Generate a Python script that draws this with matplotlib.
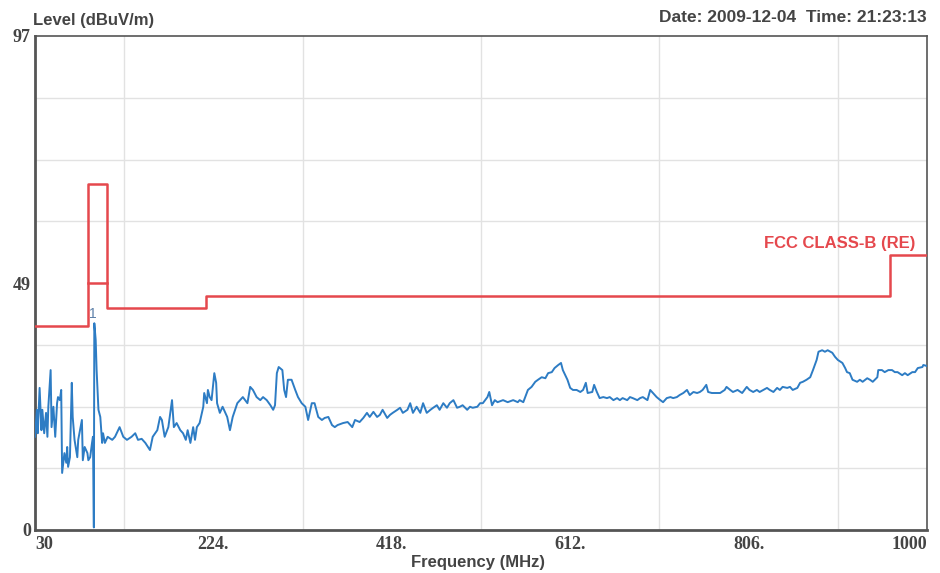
import matplotlib.pyplot as plt
import numpy as np
from matplotlib.transforms import ScaledTranslation

plt.rcParams['font.family'] = ['Liberation Sans', 'DejaVu Sans']

freq = [30, 32, 33, 35, 37, 38, 40, 42, 43.5, 44.5, 47, 48, 50, 52, 54, 55, 57, 58.5, 59.5, 62,
        64, 65, 66, 68, 70, 71, 73, 76, 77, 81, 82, 84, 87, 88, 90, 92, 93, 94, 94.5, 96,
        97, 99, 101, 103, 104, 106, 109, 114, 117, 122, 126, 130, 135, 139, 142, 146, 150, 155, 158, 163,
        166, 168, 171, 175, 179, 181, 184, 188, 191, 194, 196, 199, 202, 204, 206, 209, 213, 214, 217, 218,
        220, 222, 225, 227, 228, 231, 234, 239, 242, 245, 250, 253, 256, 261, 264, 267, 271, 275, 278, 282,
        286, 289, 291, 293, 295, 299, 301, 303, 305, 309, 313, 316, 320, 324, 327, 331, 334, 338, 342, 345,
        349, 353, 356, 359, 365, 370, 375, 378, 383, 387, 391, 394, 398, 402, 405, 408, 413, 416, 419, 424,
        427, 430, 435, 438, 441, 445, 449, 452, 456, 460, 463, 467, 470, 474, 478, 481, 485, 489, 492, 495,
        500, 503, 506, 511, 514, 517, 522, 524, 527, 530, 533, 539, 544, 550, 555, 557, 561, 566, 570, 574,
        577, 581, 585, 588, 592, 595, 599, 602, 604, 609, 612, 615, 619, 623, 626, 629, 631, 636, 638, 641,
        644, 648, 652, 655, 659, 663, 666, 669, 674, 677, 680, 685, 688, 691, 696, 699, 702, 706, 710, 713,
        717, 721, 724, 728, 731, 735, 739, 742, 746, 750, 753, 756, 760, 762, 766, 772, 775, 780, 782, 786,
        789, 794, 799, 804, 807, 811, 815, 818, 822, 826, 829, 833, 837, 840, 843, 848, 851, 854, 859, 862,
        865, 869, 873, 876, 880, 882, 886, 889, 892, 897, 900, 903, 908, 911, 913, 916, 919, 924, 927, 930,
        935, 938, 941, 946, 947, 951, 954, 958, 962, 965, 968, 973, 976, 979, 984, 987, 990, 995, 996, 1000]
level = [18.3, 23.6, 19.0, 27.9, 19.6, 23.6, 19.0, 23.0, 18.3, 24.2, 31.4, 20.2, 24.2, 18.3, 24.9, 26.1, 25.5, 27.5, 11.2, 15.1,
         13.2, 16.3, 12.4, 14.3, 28.9, 22.2, 17.7, 14.3, 17.7, 21.6, 13.7, 16.3, 15.1, 13.7, 14.3, 17.1, 18.3, 0.5, 40.6, 37.3,
         31.4, 23.6, 22.2, 17.1, 19.0, 17.1, 18.3, 17.7, 18.3, 20.2, 18.3, 17.7, 18.3, 19.0, 17.7, 17.9, 17.1, 15.7, 18.3, 19.6,
         22.2, 21.6, 18.3, 20.2, 25.5, 20.2, 21.0, 19.6, 19.0, 17.7, 19.6, 17.1, 20.2, 17.7, 20.2, 21.0, 24.2, 26.9, 24.9, 27.5,
         26.1, 25.5, 30.8, 28.9, 24.9, 23.0, 24.2, 22.2, 19.6, 22.2, 24.9, 25.5, 26.1, 24.9, 28.1, 27.5, 26.1, 25.5, 26.1, 25.5,
         24.5, 23.6, 24.5, 30.8, 32.0, 31.4, 27.5, 26.1, 29.5, 29.5, 27.5, 26.1, 24.9, 24.2, 21.6, 24.9, 24.9, 22.2, 21.6, 22.0,
         22.2, 20.6, 20.2, 20.6, 21.0, 21.2, 20.2, 21.6, 21.2, 22.0, 23.0, 22.2, 23.2, 22.2, 22.6, 23.6, 22.0, 22.6, 23.0, 23.6,
         24.0, 23.0, 23.6, 24.9, 23.0, 24.2, 23.0, 24.9, 23.0, 23.6, 24.0, 24.5, 23.6, 24.9, 24.0, 24.9, 25.5, 24.0, 24.2, 24.5,
         23.6, 24.2, 24.0, 24.2, 24.9, 24.9, 26.1, 27.1, 24.5, 25.5, 25.1, 25.5, 25.1, 25.5, 25.1, 25.5, 25.1, 27.5, 28.1, 29.1,
         29.5, 30.0, 29.8, 30.8, 31.0, 31.8, 32.4, 32.8, 31.4, 29.5, 27.9, 27.5, 27.5, 27.1, 27.5, 28.9, 26.9, 27.1, 28.5, 27.1,
         25.9, 26.1, 25.9, 26.1, 25.5, 25.9, 25.5, 25.9, 25.5, 26.1, 25.9, 25.5, 25.9, 26.1, 25.5, 27.5, 26.9, 26.1, 25.5, 25.1,
         25.9, 26.1, 25.9, 26.1, 26.5, 26.9, 27.5, 26.5, 27.1, 26.9, 27.1, 27.5, 28.5, 27.1, 26.9, 26.9, 26.9, 27.5, 28.1, 27.5,
         27.1, 27.5, 26.9, 28.1, 27.5, 27.1, 27.5, 27.1, 27.5, 27.9, 27.5, 27.1, 27.9, 27.5, 28.1, 27.9, 28.1, 27.5, 27.9, 28.9,
         29.1, 29.5, 30.0, 31.4, 33.4, 35.0, 35.3, 35.0, 35.3, 34.8, 34.0, 33.4, 32.8, 31.8, 31.0, 30.8, 29.5, 29.1, 29.5, 29.1,
         29.8, 29.5, 29.1, 30.0, 31.4, 31.4, 31.0, 31.4, 31.4, 31.0, 31.0, 30.4, 30.8, 30.4, 31.0, 31.0, 31.8, 32.0, 32.4, 32.2]

# FCC class B limit path
limit_f = [30, 88, 88, 108, 108, 216, 216, 960, 960, 1000]
limit_l = [40, 40, 68, 68, 43.5, 43.5, 46, 46, 54, 54]
fm_f = [88, 108]
fm_l = [48.5, 48.5]

xticks = [30, 224, 418, 612, 806, 1000]
xtick_labels = ['30', '224.', '418.', '612.', '806.', '1000']

fig = plt.figure(figsize=(9.4, 5.73), dpi=100)
ax = fig.add_axes([35 / 940, 43 / 573, 892 / 940, 494 / 573])

ax.plot(limit_f, limit_l, color='#e5484d', lw=1.8, zorder=3)
ax.plot(fm_f, fm_l, color='#e5484d', lw=1.8, zorder=3)
ax.plot(freq, level, color='#2d7cc4', lw=1.4, zorder=4)

ax.text(93, 42.5, '1', color='#5b7fa8', fontsize=10, ha='center', va='center', zorder=5)
ax.text(987, 56.3, 'FCC CLASS-B (RE)', color='#e5484d', fontsize=12,
        fontweight='bold', ha='right', va='center')

ax.set_xlim(30, 1000)
ax.set_ylim(0, 97)

# grid: 10 divisions across, 8 down
ax.set_xticks(np.linspace(30, 1000, 11), minor=True)
ax.set_yticks(np.linspace(0, 97, 9), minor=True)
ax.grid(True, which='minor', color='#e2e2e2', lw=1)
ax.tick_params(which='both', length=0)

ax.set_xticks(xticks)
ax.set_xticklabels(xtick_labels, family='Liberation Serif', fontweight='bold',
                   fontsize=13, color='#444444')
labels = ax.get_xticklabels()
labels[0].set_ha('left')
labels[-1].set_ha('right')
labels[-1].set_transform(labels[-1].get_transform()
                         + ScaledTranslation(0.07, 0, fig.dpi_scale_trans))
ax.set_yticks([0, 48.5, 97])
ax.set_yticklabels(['0', '49', '97'], family='Liberation Serif', fontweight='bold',
                   fontsize=13, color='#444444')
ax.tick_params(axis='x', pad=4)
ax.tick_params(axis='y', pad=3)

for s in ['left', 'bottom']:
    ax.spines[s].set_linewidth(2)
    ax.spines[s].set_color('#555555')
for s in ['top', 'right']:
    ax.spines[s].set_linewidth(1.2)
    ax.spines[s].set_color('#555555')

fig.text(33 / 940, 1 - 20 / 573, 'Level (dBuV/m)', fontsize=12, fontweight='bold',
         color='#444444', ha='left', va='center')
fig.text(927 / 940, 1 - 17 / 573, 'Date: 2009-12-04  Time: 21:23:13', fontsize=12.5,
         fontweight='bold', color='#444444', ha='right', va='center')
fig.text(478 / 940, 1 - 563 / 573, 'Frequency (MHz)', fontsize=12, fontweight='bold',
         color='#444444', ha='center', va='center')

plt.savefig('out.png', dpi=100)
